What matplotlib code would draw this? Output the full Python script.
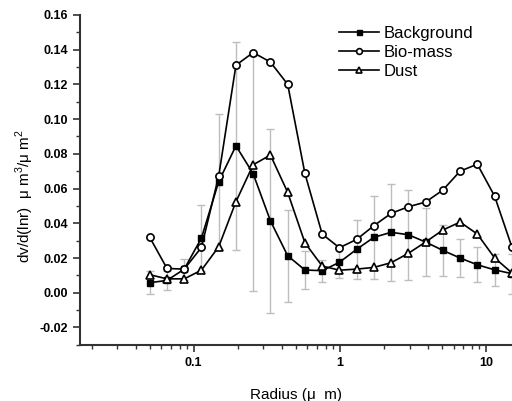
import matplotlib
matplotlib.use("Agg")
import matplotlib.pyplot as plt
import numpy as np
from matplotlib.ticker import LogLocator, FixedLocator, MultipleLocator, NullFormatter

plt.rcParams['font.family'] = ['Liberation Sans', 'DejaVu Sans']
plt.rcParams['mathtext.fontset'] = 'custom'
plt.rcParams['mathtext.rm'] = 'Liberation Sans'

# AERONET size bins (radius, um)
radius = [0.050, 0.0656, 0.0861, 0.1129, 0.1482, 0.1944, 0.2551, 0.3347,
          0.4392, 0.5762, 0.7561, 0.9920, 1.3016, 1.7078, 2.2407, 2.9400,
          3.8575, 5.0613, 6.6407, 8.7131, 11.4323, 15.0]

background = [0.0058, 0.0071, 0.0136, 0.0315, 0.0640, 0.0846, 0.0685, 0.0414,
              0.0213, 0.0131, 0.0127, 0.0175, 0.0250, 0.0319, 0.0348, 0.0334,
              0.0292, 0.0244, 0.0200, 0.0161, 0.0132, 0.0110]
background_err = [0.0068, 0.0055, 0.0060, 0.0190, 0.0390, 0.0600, 0.0676, 0.0530,
                  0.0265, 0.0110, 0.0063, 0.0090, 0.0168, 0.0240, 0.0280, 0.0260,
                  0.0195, 0.0145, 0.0112, 0.0101, 0.0093, 0.0115]

biomass = [0.0319, 0.0140, 0.0136, 0.0261, 0.0672, 0.1310, 0.1383, 0.1328,
           0.1200, 0.0687, 0.0338, 0.0259, 0.0307, 0.0386, 0.0457, 0.0495,
           0.0522, 0.0591, 0.0700, 0.0740, 0.0557, 0.0265]

dust = [0.0104, 0.0080, 0.0080, 0.0130, 0.0265, 0.0524, 0.0737, 0.0793,
        0.0578, 0.0288, 0.0154, 0.0130, 0.0136, 0.0146, 0.0173, 0.0227,
        0.0292, 0.0361, 0.0407, 0.0338, 0.0201, 0.0115]

fig = plt.figure(figsize=(5.12, 4.01), dpi=100)
ax = fig.add_axes([0.156, 0.14, 0.844, 0.823])

ax.errorbar(radius, background, yerr=background_err, fmt='none',
            ecolor='#bdbdbd', elinewidth=1.0, capsize=3, capthick=1.0, zorder=1)

ax.plot(radius, background, '-s', color='black', lw=1.2, ms=4.5,
        mfc='black', mec='black', label='Background', zorder=3)
ax.plot(radius, biomass, '-o', color='black', lw=1.2, ms=5.2,
        mfc='white', mec='black', mew=1.2, label='Bio-mass', zorder=3)
ax.plot(radius, dust, '-^', color='black', lw=1.2, ms=5.8,
        mfc='white', mec='black', mew=1.2, label='Dust', zorder=3)

ax.set_xscale('log')
ax.set_xlim(0.01663, 15.05)
ax.set_ylim(-0.03, 0.16)

ax.xaxis.set_major_locator(FixedLocator([0.1, 1, 10]))
ax.set_xticklabels(['0.1', '1', '10'])
ax.xaxis.set_minor_locator(LogLocator(base=10, subs=np.arange(2, 10)))
ax.xaxis.set_minor_formatter(NullFormatter())
ax.yaxis.set_minor_locator(MultipleLocator(0.01))
ax.set_yticks(np.arange(-0.02, 0.161, 0.02))
ax.set_yticklabels(['%.2f' % v for v in np.arange(-0.02, 0.161, 0.02)])

for s in ['top', 'right']:
    ax.spines[s].set_visible(False)
for s in ['left', 'bottom']:
    ax.spines[s].set_color('#333333')
    ax.spines[s].set_linewidth(1.5)

ax.tick_params(which='major', direction='out', length=5, width=1.2,
               color='#333333', labelsize=9)
ax.tick_params(which='minor', direction='out', length=3, width=1.0,
               color='#333333')
for lab in ax.get_xticklabels() + ax.get_yticklabels():
    lab.set_fontweight('bold')

ax.set_xlabel('Radius (μ  m)', fontsize=11, labelpad=14)
ax.set_ylabel(r'dv/d(lnr)  μ m$^3$/μ m$^2$', fontsize=11)
ax.yaxis.set_label_coords(-0.102, 0.45)

leg = ax.legend(loc='upper left', bbox_to_anchor=(0.565, 1.012), frameon=False,
                fontsize=12, handlelength=2.4, handletextpad=0.3,
                labelspacing=0.25, markerscale=0.8)

fig.savefig('out.png', dpi=100)
